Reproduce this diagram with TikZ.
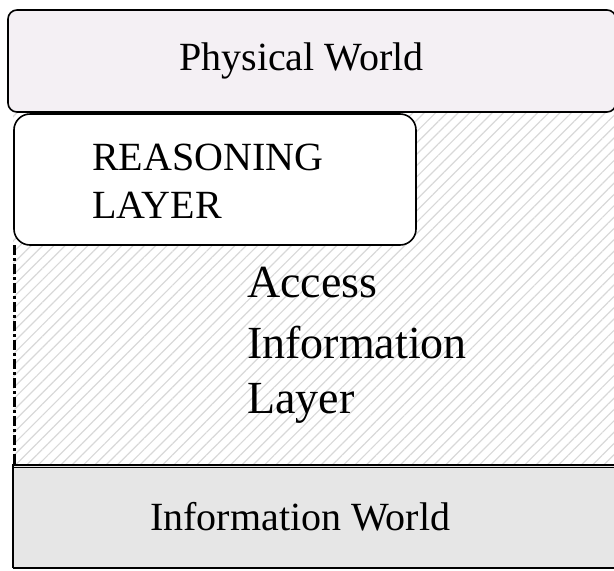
\documentclass[tikz,border=0pt]{standalone}
\usepackage{fontspec}
\setmainfont{Liberation Serif}
\usetikzlibrary{patterns.meta}
\definecolor{physfill}{HTML}{F4F0F4}
\definecolor{infofill}{HTML}{E6E6E6}
\definecolor{hatch}{HTML}{D8D8D8}
\begin{document}
\begin{tikzpicture}[x=1pt,y=-1pt,
  lbl/.style={anchor=base west,inner sep=0pt,font=\fontsize{40}{48}\selectfont},
  biglbl/.style={anchor=base west,inner sep=0pt,font=\fontsize{46}{55}\selectfont},
  boxline/.style={draw=black,line width=1.6pt}]
\useasboundingbox (0,0) rectangle (614,571);
% hatched access information layer
\fill[pattern={Lines[angle=45,distance=8pt,line width=1.2pt]},pattern color=hatch] (13,112) rectangle (614,465);
% physical world
\draw[boxline,fill=physfill,rounded corners=9pt] (8,10) rectangle (616,112);
% reasoning layer
\draw[boxline,fill=white,rounded corners=16pt] (14,114) rectangle (416,245);
% left dash-dot border
\draw[line width=2.6pt,dash pattern=on 10pt off 3pt on 3pt off 3pt] (14.5,245) -- (14.5,465);
% information world
\fill[infofill] (13,465) rectangle (614,568);
\draw[line width=1.6pt] (13,568) -- (13,465) -- (614,465);
\draw[line width=1pt] (13,467) -- (614,467);
\draw[line width=1.4pt] (13,568) -- (614,568);
% texts
\node[lbl] (phys) at (179,70) {Physical World};
\node[lbl] (reason1) at (92,170) {REASONING};
\node[lbl] (reason2) at (92,218) {LAYER};
\node[biglbl] (acc1) at (247,297) {Access};
\node[biglbl] (acc2) at (247,358) {Information};
\node[biglbl] (acc3) at (247,413) {Layer};
\node[lbl] (info) at (150,530) {Information World};
\end{tikzpicture}
\end{document}
